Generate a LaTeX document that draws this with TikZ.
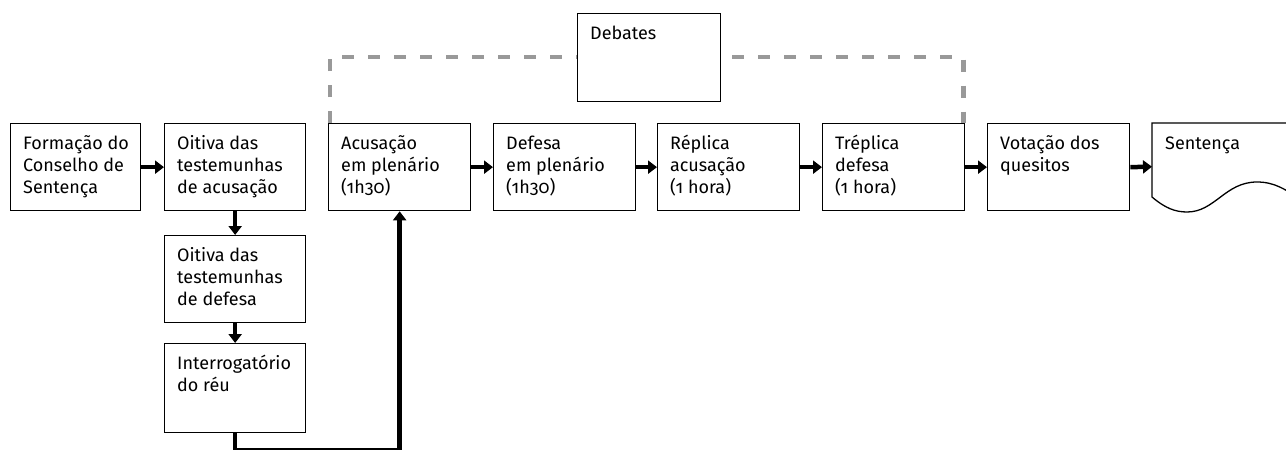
\documentclass[tikz,border=0pt]{standalone}
\usepackage{fontspec}
\setmainfont{Fira Sans}[Numbers=OldStyle]
\usetikzlibrary{arrows.meta,calc}
\tikzset{
  box/.style={draw, line width=1.3pt, anchor=north west, inner sep=0pt, fill=white},
  txt/.style={anchor=north west, align=left, inner sep=0pt,
    font=\fontsize{18}{22}\selectfont},
  flow/.style={line width=4.5pt, -{Triangle[length=9pt,width=13pt]}},
  thickln/.style={line width=4.5pt},
  thinln/.style={line width=1.5pt},
  dbox/.style={draw=black!40, line width=4.5pt, dash pattern=on 12pt off 14pt},
}
\newcommand{\fl}{\rule{0pt}{16pt}}
\begin{document}
\begin{tikzpicture}[x=1pt,y=1pt]
\useasboundingbox (0,0) rectangle (1286,-450);
% boxes
\node[box, minimum width=130pt, minimum height=87pt] (b1) at (10,-123) {};
\node[box, minimum width=141pt, minimum height=87pt] (b2) at (164,-123) {};
\node[box, minimum width=141pt, minimum height=87pt] (b3) at (164,-235) {};
\node[box, minimum width=141pt, minimum height=89pt] (b4) at (164,-343) {};
\node[box, minimum width=142pt, minimum height=87pt] (acus) at (328,-123) {};
\node[box, minimum width=142pt, minimum height=87pt] (def) at (493,-123) {};
\node[box, minimum width=142pt, minimum height=87pt] (rep) at (657,-123) {};
\node[box, minimum width=142pt, minimum height=87pt] (trep) at (822,-123) {};
\node[box, minimum width=142pt, minimum height=87pt] (vot) at (987,-123) {};
\node[anchor=north west, inner sep=0pt, minimum width=142pt, minimum height=87pt] (sent) at (1152,-123) {};
% dashed debates bracket
\coordinate (dl) at ($(acus.north west)+(2,0)$);
\coordinate (dr) at ($(trep.north east)+(-2,0)$);
\draw[dbox] (dl) -- (dl |- 0,-57) -- (dr |- 0,-57) -- (dr);
\node[box, minimum width=143pt, minimum height=88pt] (deb) at (577,-13) {};
% document shape
\draw[line width=1.3pt] (sent.north west) -- (sent.north east) -- ($(sent.north east)+(0,-72)$)
  .. controls (1285,-190) and (1275,-182) .. (1257,-182)
  .. controls (1225,-182) and (1215,-212) .. (1187,-212)
  .. controls (1175,-212) and (1165,-208) .. ($(sent.north west)+(0,-74)$) -- cycle;
% texts
\node[txt] (t1) at ($(b1.north west)+(13,-10)$) {\fl Formação do\\Conselho de\\Sentença};
\node[txt] (t2) at ($(b2.north west)+(13,-10)$) {\fl Oitiva das\\testemunhas\\de acusação};
\node[txt] (t3) at ($(b3.north west)+(13,-10)$) {\fl Oitiva das\\testemunhas\\de defesa};
\node[txt] (t4) at ($(b4.north west)+(13,-10)$) {\fl Interrogatório\\do réu};
\node[txt] (t5) at ($(acus.north west)+(13,-10)$) {\fl Acusação\\em plenário\\(1h30)};
\node[txt] (t6) at ($(def.north west)+(13,-10)$) {\fl Defesa\\em plenário\\(1h30)};
\node[txt] (t7) at ($(rep.north west)+(13,-10)$) {\fl Réplica\\acusação\\(1 hora)};
\node[txt] (t8) at ($(trep.north west)+(13,-10)$) {\fl Tréplica\\defesa\\(1 hora)};
\node[txt] (t9) at ($(vot.north west)+(13,-10)$) {\fl Votação dos\\quesitos};
\node[txt] (t10) at ($(sent.north west)+(13,-10)$) {\fl Sentença};
\node[txt] (t11) at ($(deb.north west)+(13,-10)$) {\fl Debates};
% arrows
\draw[flow] (b1.east) -- (b2.west);
\draw[flow] (b2.south) -- (b3.north);
\draw[flow] (b3.south) -- (b4.north);
\draw[flow] (acus.east) -- (def.west);
\draw[flow] (def.east) -- (rep.west);
\draw[flow] (rep.east) -- (trep.west);
\draw[flow] (trep.east) -- (vot.west);
\draw[flow] (vot.east) -- (sent.west);
% bottom loop
\coordinate (c1) at (b4.south |- 0,-449);
\coordinate (c2) at (acus.south |- 0,-449);
\coordinate (c1e) at (b4.south |- 0,-452);
\draw[thickln] (b4.south) -- (c1e);
\draw[thinln] (c1) -- (c2);
\draw[flow] (c1e -| c2) -- (acus.south);
\end{tikzpicture}
\end{document}
